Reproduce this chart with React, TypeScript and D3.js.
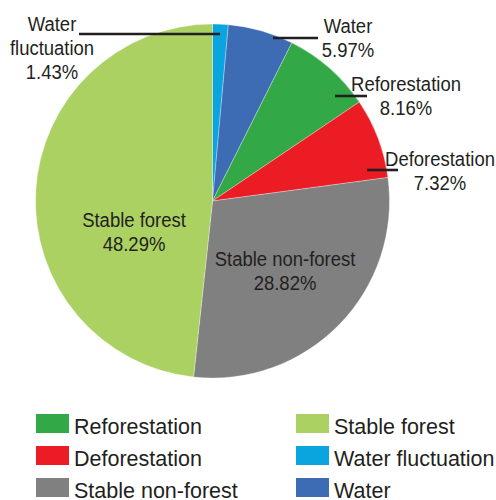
import React from "react";
import * as d3 from "d3";

// Land-cover change classes, in clockwise order from 12 o'clock
const categories = [
  "Water fluctuation",
  "Water",
  "Reforestation",
  "Deforestation",
  "Stable non-forest",
  "Stable forest",
];
const shares = [1.43, 5.97, 8.16, 7.32, 28.82, 48.29];
const colors = ["#0aa5df", "#3e6cb4", "#33a846", "#ec1c24", "#808080", "#acd163"];

// Legend arrangement (two columns)
const legendOrder = [
  ["Reforestation", "Deforestation", "Stable non-forest"],
  ["Stable forest", "Water fluctuation", "Water"],
];

const W = 496;
const H = 500;
const cx = 212.5;
const cy = 201;
const R = 177;
const FONT = "'Liberation Sans', Arial, sans-serif";
const TEXT = "#231f20";
const NARROW = 0.88;

// Label placement relative to the pie centre: text anchor, leader line (x1,x2,y)
const labelLayout: Record<string, { tx: number; ty: number; line?: [number, number, number] }> = {
  "Water fluctuation": { tx: -160.5, ty: -170, line: [-133.5, 7.5, -167] },
  Water: { tx: 135.5, ty: -168, line: [60.5, 105.5, -163] },
  Reforestation: { tx: 193.5, ty: -110, line: [122.5, 154.5, -105] },
  Deforestation: { tx: 227.5, ty: -35, line: [154.5, 185.5, -31] },
  "Stable non-forest": { tx: 72.5, ty: 65 },
  "Stable forest": { tx: -78.5, ty: 26 },
};

export default function App() {
  const pie = d3
    .pie<number>()
    .sort(null)
    .value((d) => d)
    .startAngle(0)
    .endAngle(2 * Math.PI);
  const arcs = pie(shares);
  const arcGen = d3.arc<d3.PieArcDatum<number>>().innerRadius(0).outerRadius(R);

  const lh = 24;

  return (
    <svg width={W} height={H} style={{ position: "absolute", left: 0, top: 0 }}>
      <rect width={W} height={H} fill="#ffffff" />
      <g transform={`translate(${cx},${cy})`}>
        {arcs.map((a, i) => (
          <path
            key={categories[i]}
            d={arcGen(a) || ""}
            fill={colors[i]}
            stroke="#ffffff"
            strokeOpacity={0.5}
            strokeWidth={0.6}
          />
        ))}
        {categories.map((c, i) => {
          const L = labelLayout[c];
          const words = c === "Water fluctuation" ? ["Water", "fluctuation"] : [c];
          const rows = [...words, `${shares[i].toFixed(2)}%`];
          return (
            <g key={c}>
              {L.line && (
                <line
                  x1={L.line[0]}
                  x2={L.line[1]}
                  y1={L.line[2]}
                  y2={L.line[2]}
                  stroke={TEXT}
                  strokeWidth={2.6}
                />
              )}
              {rows.map((t, k) => (
                <text
                  key={k}
                  transform={`translate(${L.tx},${L.ty + k * lh}) scale(${NARROW},1)`}
                  textAnchor="middle"
                  fontFamily={FONT}
                  fontSize={21}
                  fill={TEXT}
                >
                  {t}
                </text>
              ))}
            </g>
          );
        })}
      </g>
      {legendOrder.map((col, ci) =>
        col.map((name, ri) => {
          const idx = categories.indexOf(name);
          const x0 = ci === 0 ? 36 : 296;
          const y0 = 414 + ri * 32;
          return (
            <g key={name}>
              <rect x={x0} y={y0} width={33} height={19} fill={colors[idx]} />
              <text
                x={x0 + 38}
                y={y0 + 19.5}
                fontFamily={FONT}
                fontSize={21.5}
                fill={TEXT}
              >
                {name}
              </text>
            </g>
          );
        })
      )}
    </svg>
  );
}
